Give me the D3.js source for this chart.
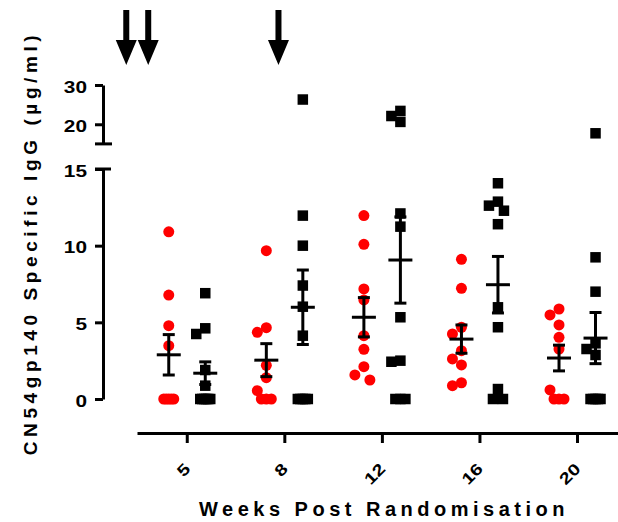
<!DOCTYPE html>
<html>
<head>
<meta charset="utf-8">
<script src="https://cdn.jsdelivr.net/npm/d3@7"></script>
<style>
  html, body { margin: 0; padding: 0; background: #fff; }
  svg { display: block; font-family: "Liberation Sans", Arial, sans-serif; }
</style>
</head>
<body>
<script>
// ---------- data ----------
const weeks = ["5", "8", "12", "16", "20"];
const seriesNames = ["Red group", "Black group"];
const seriesColors = ["#ff0000", "#000000"];

// values per week (µg/ml)
const redValues = [
  [10.9, 6.78, 4.78, 3.48, 0, 0, 0, 0, 0],
  [9.67, 4.65, 4.35, 2.2, 1.39, 0.54, 0, 0, 0],
  [11.96, 10.09, 7.18, 6.46, 4.13, 3.24, 2.11, 1.57, 1.24],
  [9.11, 7.22, 4.68, 4.24, 3.15, 2.61, 2.22, 1.06, 0.87],
  [5.87, 5.48, 4.83, 4.02, 3.26, 0.59, 0, 0, 0]
];
const blackValues = [
  [6.9, 4.61, 4.24, 1.89, 0.87, 0, 0, 0, 0, 0, 0],
  [26.3, 11.96, 10.0, 7.4, 6.02, 4.13, 0, 0, 0, 0, 0],
  [23.4, 22.1, 20.6, 12.1, 11.24, 5.33, 2.5, 2.43, 0, 0, 0],
  [14.07, 12.87, 12.61, 12.28, 11.4, 5.98, 4.68, 0.65, 0, 0],
  [17.7, 9.24, 7.0, 3.63, 3.26, 2.87, 0, 0, 0, 0, 0]
];
const lowerTicks = [0, 5, 10, 15];
const upperTicks = [20, 30];
const breakValue = 15;
// immunisation arrows, in category-index units along the x axis
const arrowPositions = [-0.62, -0.395, 0.94];

const yTitle = "CN54gp140 Specific IgG (µg/ml)";
const xTitle = "Weeks Post Randomisation";

// ---------- layout ----------
const W = 618, H = 522;
const FONT = "'Liberation Sans', Arial, sans-serif";
const svg = d3.select("body").append("svg").attr("width", W).attr("height", H);

const x = d3.scaleLinear().domain([-0.51, 4.42]).range([137, 618]);
const seriesOffset = d3.scalePoint().domain(seriesNames).range([-18, 18.5]);
const yLow = d3.scaleLinear().domain([0, 15]).range([399, 169]);
const yHigh = d3.scaleLinear().domain([15, 30]).range([143.9, 85]);
const y = v => v <= breakValue ? yLow(v) : yHigh(v);

const axisX = 103, xAxisY = 433;
const LW = 3;

// ---------- axes ----------
function styleAxis(g) {
  g.attr("font-family", FONT);
  g.select(".domain").attr("stroke", "#000").attr("stroke-width", LW);
  g.selectAll(".tick line").attr("stroke", "#000").attr("stroke-width", LW);
  g.selectAll(".tick text").attr("fill", "#000").attr("font-weight", "bold");
}

const gLow = svg.append("g").attr("transform", `translate(${axisX},0)`)
  .call(d3.axisLeft(yLow).tickValues(lowerTicks).tickSize(8).tickSizeOuter(0).tickPadding(8))
  .call(styleAxis);
const gHigh = svg.append("g").attr("transform", `translate(${axisX},0)`)
  .call(d3.axisLeft(yHigh).tickValues(upperTicks).tickSize(8).tickSizeOuter(0).tickPadding(8))
  .call(styleAxis);

const sx = 1.3;
[gLow, gHigh].forEach(g => {
  g.attr("font-size", 16);
  g.selectAll(".tick text")
    .style("font-size", "16px")
    .attr("x", -16 / sx)
    .attr("dy", "0.45em")
    .attr("transform", `scale(${sx},1)`);
});

// break caps
svg.append("line")
  .attr("x1", axisX - 8).attr("x2", axisX + 8)
  .attr("y1", yLow(breakValue)).attr("y2", yLow(breakValue))
  .attr("stroke", "#000").attr("stroke-width", LW);
svg.append("line")
  .attr("x1", axisX - 8).attr("x2", axisX + 9)
  .attr("y1", yHigh(breakValue)).attr("y2", yHigh(breakValue))
  .attr("stroke", "#000").attr("stroke-width", LW);

// x axis
const gx = svg.append("g").attr("transform", `translate(0,${xAxisY})`)
  .call(d3.axisBottom(x).tickValues(d3.range(weeks.length))
    .tickFormat(i => weeks[i]).tickSize(10).tickSizeOuter(0))
  .call(styleAxis);
gx.attr("font-size", 16);
gx.selectAll(".tick text")
  .style("font-size", "16px")
  .attr("x", 0).attr("y", 0).attr("dy", 0)
  .attr("text-anchor", "end")
  .attr("transform", "translate(4,37) rotate(-45) scale(1.25,1)");

// titles
svg.append("text")
  .attr("transform", "translate(37,243) rotate(-90)")
  .attr("text-anchor", "middle")
  .attr("font-size", 19).attr("font-weight", "bold")
  .attr("letter-spacing", "4.6px")
  .text(yTitle);

svg.append("text")
  .attr("x", 384).attr("y", 516)
  .attr("text-anchor", "middle")
  .attr("font-size", 20).attr("font-weight", "bold")
  .attr("letter-spacing", "4.5px")
  .text(xTitle);

// ---------- arrows ----------
const arrowTop = 10, arrowHeadTop = 40, arrowTip = 65;
svg.append("g").selectAll("path").data(arrowPositions).join("path")
  .attr("d", p => {
    const cx = x(p);
    return `M${cx - 3},${arrowTop}H${cx + 3}V${arrowHeadTop}H${cx + 10.5}L${cx},${arrowTip}L${cx - 10.5},${arrowHeadTop}H${cx - 3}Z`;
  })
  .attr("fill", "#000");

// ---------- points (column scatter with simple collision spreading) ----------
function spread(values, cx) {
  const pts = values.map((v, i) => ({ v, i, py: y(v) }));
  const counts = d3.rollup(values, a => a.length, v => v);
  const placed = [];
  const tieSeen = new Map();
  pts.forEach(p => {
    const c = counts.get(p.v);
    if (c > 1) {
      const k = tieSeen.get(p.v) || 0;
      tieSeen.set(p.v, k + 1);
      p.px = cx - 5 + 10 * k / (c - 1);
      placed.push(p);
    }
  });
  const cands = [0, -6, 6, -9, 9];
  pts.filter(p => counts.get(p.v) === 1)
    .sort((a, b) => b.v - a.v)
    .forEach(p => {
      let best = null, bestD = -1;
      for (const c of cands) {
        const px = cx + c;
        let md = Infinity;
        placed.forEach(q => { md = Math.min(md, Math.hypot(q.px - px, q.py - p.py)); });
        if (md >= 10.5) { best = px; break; }
        if (md > bestD) { bestD = md; best = px; }
      }
      p.px = best;
      placed.push(p);
    });
  return pts;
}

const allSeries = [redValues, blackValues];
const gPts = svg.append("g");
allSeries.forEach((series, s) => {
  series.forEach((vals, wi) => {
    const cx = x(wi) + seriesOffset(seriesNames[s]);
    const pts = spread(vals, cx);
    if (s === 0) {
      gPts.selectAll(null).data(pts).join("circle")
        .attr("cx", d => d.px).attr("cy", d => d.py).attr("r", 5.5)
        .attr("fill", seriesColors[s]);
    } else {
      const side = 10.5;
      gPts.selectAll(null).data(pts).join("rect")
        .attr("x", d => d.px - side / 2).attr("y", d => d.py - side / 2)
        .attr("width", side).attr("height", side)
        .attr("fill", seriesColors[s]);
    }
  });
});

// ---------- mean ± SEM ----------
const gErr = svg.append("g").attr("stroke", "#000").attr("stroke-width", LW);
allSeries.forEach((series, s) => {
  series.forEach((vals, wi) => {
    const cx = x(wi) + seriesOffset(seriesNames[s]);
    const m = d3.mean(vals);
    const sem = d3.deviation(vals) / Math.sqrt(vals.length);
    gErr.append("line").attr("x1", cx - 12).attr("x2", cx + 12).attr("y1", y(m)).attr("y2", y(m));
    gErr.append("line").attr("x1", cx).attr("x2", cx).attr("y1", y(m - sem)).attr("y2", y(m + sem));
    gErr.append("line").attr("x1", cx - 6).attr("x2", cx + 6).attr("y1", y(m - sem)).attr("y2", y(m - sem));
    gErr.append("line").attr("x1", cx - 6).attr("x2", cx + 6).attr("y1", y(m + sem)).attr("y2", y(m + sem));
  });
});
</script>
</body>
</html>
